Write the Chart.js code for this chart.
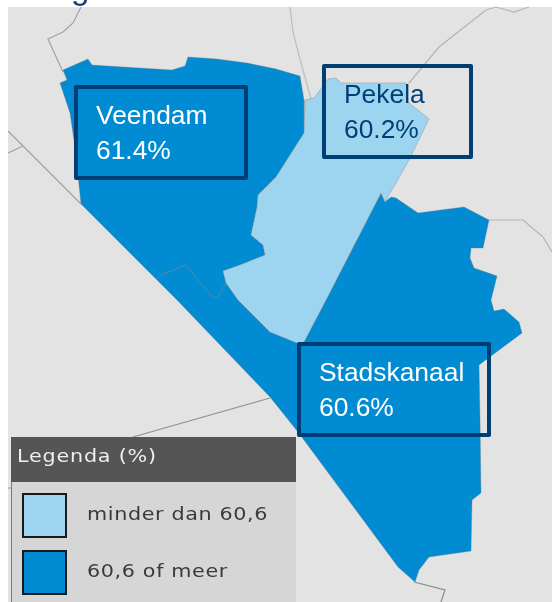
<!DOCTYPE html>
<html>
<head>
<meta charset="utf-8">
<style>
  html, body { margin: 0; padding: 0; background: #fff; overflow: hidden; }
  canvas { display: block; }
</style>
<script src="https://cdn.jsdelivr.net/npm/chart.js@4"></script>
</head>
<body>
<canvas id="kaart" width="552" height="602"></canvas>
<script>
// -------- DATA ---------------
let gemeenten = ["Veendam", "Pekela", "Stadskanaal"];
let percentages = ["61.4%", "60.2%", "60.6%"];
let legendaLabels = ["minder dan 60,6", "60,6 of meer"];

// map outlines, in map units
let veendamX = [63,88,92,172,185,188,217,247,276,300,304,304,276,258,257,251,263,265,240,223,226,218,213,186,163,156,81,75,70,60,67,63];
let veendamY = [70,59,65,70,66,57,59,63,69,76,100,133,177,195,207,235,245,255,265,271,283,297,298,265,274,279,204,147,113,83,80,70];

let pekelaX = [305,314,328,336,341,406,408,429,409,385,381,326,304,297,270,238,226,223,240,265,263,251,257,258,276,304,305];
let pekelaY = [100,98,79,78,83,83,102,119,160,202,193,300,342,343,332,300,283,271,265,255,245,235,207,195,177,133,100];

let stadskanaalX = [156,163,186,213,218,226,238,270,297,304,326,381,385,391,396,418,464,489,483,471,470,474,497,491,494,504,519,522,479,480,481,472,471,429,419,415,398,298,270,177,156];
let stadskanaalY = [279,274,265,298,297,283,300,332,343,342,300,193,202,197,198,213,207,220,248,248,258,268,276,300,311,309,322,333,365,417,493,500,551,557,570,582,567,432,397,300,279];

// neighbouring borders
let grensNoordwestX = [81,73,63,48,63];
let grensNoordwestY = [7,23,32,39,72];
let grensWestX = [8,81];
let grensWestY = [131,204];
let grensWestKortX = [8,23];
let grensWestKortY = [153,146];
let grensNoordX = [290,293,301,311];
let grensNoordY = [7,32,63,99];
let grensNoordoostX = [409,439,486,496,514,529];
let grensNoordoostY = [83,47,10,7,12,7];
let grensOostX = [489,523,543,552];
let grensOostY = [220,220,237,252];
let grensZuidwestX = [270,133];
let grensZuidwestY = [398,437];
let grensZuidX = [414,445,441];
let grensZuidY = [582,590,602];
let grensLinksX = [8,12];
let grensLinksY = [488,488];

// ------------ COLOURS -----------------
const blauw = "#008bd2";
const lichtblauw = "#9dd5f0";
const kaartGrijs = "#e3e3e3";
const kader = "#003f75";
const randGrijs = "rgba(120,120,120,0.35)";
const lijnGrijs = "#a3a3a3";

function punten(xs, ys) {
    return xs.map((x, i) => ({ x: x, y: ys[i] }));
}

function gebied(label, xs, ys, kleur, volgorde) {
    return {
        label: label,
        data: punten(xs, ys),
        showLine: true,
        fill: "shape",
        backgroundColor: kleur,
        borderColor: randGrijs,
        borderWidth: 1,
        pointRadius: 0,
        tension: 0,
        order: volgorde
    };
}

function grens(xs, ys, kleur=lijnGrijs) {
    return {
        data: punten(xs, ys),
        showLine: true,
        fill: false,
        borderColor: kleur,
        borderWidth: 1.2,
        pointRadius: 0,
        tension: 0,
        order: 10
    };
}

// ------------ BACKGROUND, LABEL BOXES AND LEGEND -----------------
const kaartOpmaak = {
    id: "kaartOpmaak",
    beforeDatasetsDraw(chart) {
        let ctx = chart.ctx;
        let sx = chart.scales.x, sy = chart.scales.y;
        ctx.save();
        ctx.fillStyle = kaartGrijs;
        ctx.fillRect(sx.getPixelForValue(8), sy.getPixelForValue(7), 544, 595);
        ctx.restore();
    },
    afterDatasetsDraw(chart) {
        let ctx = chart.ctx;
        let sx = chart.scales.x, sy = chart.scales.y;

        // clipped title above the map
        ctx.save();
        ctx.fillStyle = "#1f3a86";
        ctx.font = "33px 'Liberation Sans'";
        ctx.textBaseline = "alphabetic";
        ctx.fillText("g", sx.getPixelForValue(71), sy.getPixelForValue(-1));
        ctx.restore();

        // label boxes: x, y, width, height, baseline 1, baseline 2, text colour
        let vakken = [
            [76, 87, 170, 91, 124, 159, "#ffffff", 96],
            [324, 66, 147, 91, 103, 138, kader, 344],
            [299, 344, 190, 91, 381, 416, "#ffffff", 319]
        ];
        vakken.forEach((v, i) => {
            ctx.save();
            ctx.strokeStyle = kader;
            ctx.lineWidth = 4;
            ctx.lineJoin = "round";
            ctx.strokeRect(sx.getPixelForValue(v[0]), sy.getPixelForValue(v[1]), v[2], v[3]);
            ctx.fillStyle = v[6];
            ctx.font = "26.4px 'Liberation Sans'";
            ctx.fillText(gemeenten[i], sx.getPixelForValue(v[7]), sy.getPixelForValue(v[4]));
            ctx.fillText(percentages[i], sx.getPixelForValue(v[7]), sy.getPixelForValue(v[5]));
            ctx.restore();
        });

        // legend panel
        ctx.save();
        ctx.fillStyle = "#d6d6d6";
        ctx.fillRect(11, 482, 285, 120);
        ctx.fillStyle = "#555555";
        ctx.fillRect(11, 437, 285, 45);
        ctx.fillStyle = "#7a7a7a";
        ctx.fillRect(11, 482, 1, 120);

        ctx.save();
        ctx.translate(17, 462);
        ctx.scale(1.15, 1);
        ctx.font = "18px 'DejaVu Sans'";
        ctx.letterSpacing = "0.7px";
        ctx.fillStyle = "#eeeeee";
        ctx.fillText("Legenda (%)", 0, 0);
        ctx.restore();

        [[494, lichtblauw, 520], [551, blauw, 577]].forEach((r, i) => {
            ctx.fillStyle = r[1];
            ctx.fillRect(23, r[0], 43, 43);
            ctx.strokeStyle = "#1a1a1a";
            ctx.lineWidth = 2;
            ctx.strokeRect(23, r[0], 43, 43);
            ctx.save();
            ctx.translate(87, r[2]);
            ctx.scale(1.15, 1);
            ctx.font = "18px 'DejaVu Sans'";
            ctx.letterSpacing = "0.55px";
            ctx.fillStyle = "#3a3a3a";
            ctx.fillText(legendaLabels[i], 0, 0);
            ctx.restore();
        });
        ctx.restore();
    }
};

// ------------ MAP -----------------
let kaart = new Chart(document.getElementById("kaart"), {
    type: "scatter",
    data: {
        datasets: [
            grens(grensNoordwestX, grensNoordwestY),
            grens(grensWestX, grensWestY),
            grens(grensWestKortX, grensWestKortY),
            grens(grensNoordX, grensNoordY, "#bdbdbd"),
            grens(grensNoordoostX, grensNoordoostY, "#b5b5b5"),
            grens(grensOostX, grensOostY, "#b5b5b5"),
            grens(grensZuidwestX, grensZuidwestY, "#8f8f8f"),
            grens(grensZuidX, grensZuidY, "#8a8a8a"),
            grens(grensLinksX, grensLinksY),
            gebied("Veendam", veendamX, veendamY, blauw, 3),
            gebied("Stadskanaal", stadskanaalX, stadskanaalY, blauw, 2),
            gebied("Pekela", pekelaX, pekelaY, lichtblauw, 1)
        ]
    },
    options: {
        responsive: false,
        animation: false,
        layout: { padding: 0 },
        scales: {
            x: { display: false, min: 0, max: 552 },
            y: { display: false, min: 0, max: 602, reverse: true }
        },
        plugins: {
            legend: { display: false },
            tooltip: { enabled: false }
        }
    },
    plugins: [kaartOpmaak]
});
</script>
</body>
</html>
